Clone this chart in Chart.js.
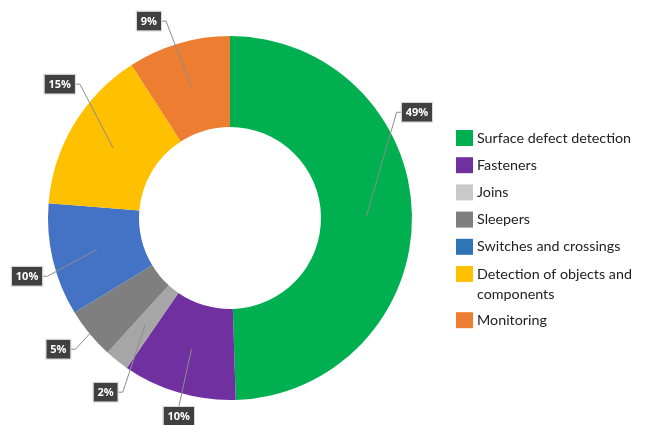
<!DOCTYPE html>
<html>
<head>
<meta charset="utf-8">
<script src="https://cdn.jsdelivr.net/npm/chart.js@4"></script>
<style>
  html, body { margin: 0; padding: 0; background: #fff; }
</style>
</head>
<body>
<canvas id="myChart" width="646" height="425"></canvas>
<script>
var categories = ['Surface defect detection', 'Fasteners', 'Joins', 'Sleepers',
  'Switches and crossings', 'Detection of objects and components', 'Monitoring'];
// slice sizes (the printed labels are rounded)
var shares = [49.5, 10.1, 2.15, 4.55, 10.0, 14.6, 9.1];
var pctLabels = ['49%', '10%', '2%', '5%', '10%', '15%', '9%'];
var legendLines = [['Surface defect detection'], ['Fasteners'], ['Joins'], ['Sleepers'],
  ['Switches and crossings'], ['Detection of objects and', 'components'], ['Monitoring']];

var sliceColors = ['#00b050', '#7030a0', '#a6a6a6', '#7f7f7f', '#4472c4', '#ffc000', '#ed7d31'];
var legendColors = ['#00b050', '#7030a0', '#c9c9c9', '#7f7f7f', '#2e75b6', '#ffc000', '#ed7d31'];
// callout placement: turn (deg) away from the slice middle, distance as share of outer radius
var labelShift = [-28.6, -1.9, -2.9, 2.1, -2.7, 7.2, -6];
var labelReach = [1.18, 1.126, 1.176, 1.187, 1.16, 1.19, 1.17];
var leaderFromEdge = [false, false, false, true, false, false, false];

var calloutPlugin = {
    id: 'callouts',
    afterDatasetsDraw: function(chart) {
        var ctx = chart.ctx;
        var arcs = chart.getDatasetMeta(0).data;
        ctx.save();
        ctx.font = 'bold 11px "Open Sans"';
        arcs.forEach(function(arc, i) {
            var p = arc.getProps(['x', 'y', 'startAngle', 'endAngle', 'innerRadius', 'outerRadius'], true);
            var mid = (p.startAngle + p.endAngle) / 2;
            var rA = leaderFromEdge[i] ? p.outerRadius : (p.innerRadius + p.outerRadius) / 2;
            var ax = p.x + rA * Math.cos(mid);
            var ay = p.y + rA * Math.sin(mid);
            var la = mid + labelShift[i] * Math.PI / 180;
            var lr = p.outerRadius * labelReach[i];
            var bx = p.x + lr * Math.cos(la);
            var by = p.y + lr * Math.sin(la);
            var tw = ctx.measureText(pctLabels[i]).width;
            var bw = tw + 8, bh = 19;
            var left = bx - bw / 2, top = by - bh / 2;

            ctx.strokeStyle = '#8c8c8c';
            ctx.lineWidth = 1;
            ctx.beginPath();
            ctx.moveTo(ax, ay);
            if (Math.abs(Math.sin(la)) > 0.95) {
                ctx.lineTo(bx, Math.sin(la) > 0 ? top : top + bh);
            } else if (bx > p.x) {
                ctx.lineTo(left - 5, by);
                ctx.lineTo(left, by);
            } else {
                ctx.lineTo(left + bw + 5, by);
                ctx.lineTo(left + bw, by);
            }
            ctx.stroke();

            ctx.fillStyle = '#404040';
            ctx.fillRect(left, top, bw, bh);
            ctx.strokeStyle = '#d9d9d9';
            ctx.strokeRect(left - 0.5, top - 0.5, bw + 1, bh + 1);
            ctx.fillStyle = '#ffffff';
            ctx.textAlign = 'center';
            ctx.textBaseline = 'middle';
            ctx.fillText(pctLabels[i], bx, by + 0.5);
        });
        ctx.restore();
    }
};

var legendPlugin = {
    id: 'sideLegend',
    afterDraw: function(chart) {
        var ctx = chart.ctx;
        var x = chart.chartArea.right + 44;
        var y = 138;
        ctx.save();
        ctx.font = '14.3px Lato';
        ctx.textBaseline = 'middle';
        ctx.textAlign = 'left';
        legendLines.forEach(function(lines, i) {
            ctx.fillStyle = legendColors[i];
            ctx.fillRect(x, y - 8, 17, 16);
            ctx.fillStyle = '#222222';
            lines.forEach(function(t, k) {
                ctx.fillText(t, x + 21, y + k * 20);
            });
            y += 27.2 + (lines.length - 1) * 19;
        });
        ctx.restore();
    }
};

var ctx = document.getElementById('myChart').getContext('2d');
var myChart = new Chart(ctx, {
    type: 'doughnut',
    data: {
        labels: categories,
        datasets: [{
            data: shares,
            backgroundColor: sliceColors,
            borderWidth: 0
        }]
    },
    options: {
        responsive: false,
        animation: false,
        cutout: '50%',
        layout: {
            padding: { top: 36, bottom: 25, left: 48, right: 234 }
        },
        plugins: {
            legend: { display: false },
            tooltip: { enabled: false }
        }
    },
    plugins: [calloutPlugin, legendPlugin]
});
</script>
</body>
</html>
